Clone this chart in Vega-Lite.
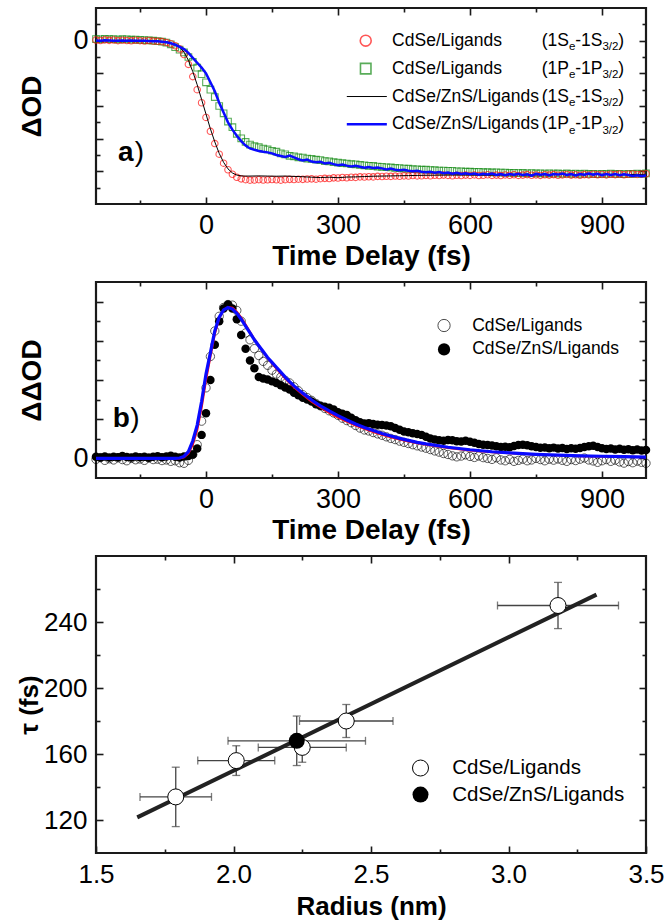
{
"$schema":"https://vega.github.io/schema/vega-lite/v6.json",
"padding":{"left":15,"top":6,"right":5,"bottom":2},
"spacing":8,
"config":{
 "font":"Liberation Sans",
 "view":{"stroke":"#1a1a1a","strokeWidth":2.2},
 "axis":{"domain":false,"grid":false,"tickColor":"#1a1a1a","tickWidth":1.6,"labelColor":"#000","titleColor":"#000","labelFont":"Liberation Sans","titleFont":"Liberation Sans","labelFlush":false,"labelOverlap":false}
},
"datasets":{
"aRed":[{"t":-250,"v":0.004},{"t":-240,"v":0.001},{"t":-230,"v":0.005},{"t":-220,"v":0.002},{"t":-210,"v":0.004},{"t":-200,"v":0.0},{"t":-190,"v":0.003},{"t":-180,"v":0.001},{"t":-170,"v":-0.001},{"t":-160,"v":0.003},{"t":-150,"v":0.0},{"t":-140,"v":-0.002},{"t":-130,"v":0.001},{"t":-120,"v":-0.003},{"t":-110,"v":-0.004},{"t":-100,"v":-0.006},{"t":-90,"v":-0.011},{"t":-80,"v":-0.019},{"t":-70,"v":-0.031},{"t":-60,"v":-0.05},{"t":-50,"v":-0.085},{"t":-40,"v":-0.145},{"t":-30,"v":-0.22},{"t":-20,"v":-0.3},{"t":-10,"v":-0.38},{"t":0,"v":-0.47},{"t":10,"v":-0.555},{"t":20,"v":-0.63},{"t":30,"v":-0.695},{"t":40,"v":-0.75},{"t":50,"v":-0.79},{"t":60,"v":-0.818},{"t":70,"v":-0.836},{"t":80,"v":-0.846},{"t":90,"v":-0.851},{"t":100,"v":-0.854},{"t":110,"v":-0.853},{"t":120,"v":-0.851},{"t":130,"v":-0.853},{"t":140,"v":-0.852},{"t":150,"v":-0.85},{"t":160,"v":-0.852},{"t":170,"v":-0.854},{"t":180,"v":-0.851},{"t":190,"v":-0.849},{"t":200,"v":-0.85},{"t":210,"v":-0.848},{"t":220,"v":-0.849},{"t":230,"v":-0.847},{"t":240,"v":-0.846},{"t":250,"v":-0.848},{"t":260,"v":-0.845},{"t":270,"v":-0.843},{"t":280,"v":-0.844},{"t":290,"v":-0.84},{"t":300,"v":-0.841},{"t":310,"v":-0.838},{"t":320,"v":-0.839},{"t":330,"v":-0.836},{"t":340,"v":-0.837},{"t":350,"v":-0.834},{"t":360,"v":-0.835},{"t":370,"v":-0.833},{"t":380,"v":-0.834},{"t":390,"v":-0.831},{"t":400,"v":-0.832},{"t":410,"v":-0.83},{"t":420,"v":-0.831},{"t":430,"v":-0.829},{"t":440,"v":-0.83},{"t":450,"v":-0.828},{"t":460,"v":-0.829},{"t":470,"v":-0.826},{"t":480,"v":-0.828},{"t":490,"v":-0.827},{"t":500,"v":-0.825},{"t":510,"v":-0.827},{"t":520,"v":-0.824},{"t":530,"v":-0.826},{"t":540,"v":-0.823},{"t":550,"v":-0.825},{"t":560,"v":-0.827},{"t":570,"v":-0.824},{"t":580,"v":-0.826},{"t":590,"v":-0.823},{"t":600,"v":-0.825},{"t":610,"v":-0.822},{"t":620,"v":-0.826},{"t":630,"v":-0.824},{"t":640,"v":-0.821},{"t":650,"v":-0.825},{"t":660,"v":-0.823},{"t":670,"v":-0.826},{"t":680,"v":-0.822},{"t":690,"v":-0.824},{"t":700,"v":-0.821},{"t":710,"v":-0.825},{"t":720,"v":-0.823},{"t":730,"v":-0.82},{"t":740,"v":-0.824},{"t":750,"v":-0.822},{"t":760,"v":-0.825},{"t":770,"v":-0.821},{"t":780,"v":-0.823},{"t":790,"v":-0.82},{"t":800,"v":-0.824},{"t":810,"v":-0.822},{"t":820,"v":-0.819},{"t":830,"v":-0.823},{"t":840,"v":-0.821},{"t":850,"v":-0.824},{"t":860,"v":-0.82},{"t":870,"v":-0.822},{"t":880,"v":-0.818},{"t":890,"v":-0.821},{"t":900,"v":-0.819},{"t":910,"v":-0.822},{"t":920,"v":-0.818},{"t":930,"v":-0.82},{"t":940,"v":-0.817},{"t":950,"v":-0.821},{"t":960,"v":-0.818},{"t":970,"v":-0.816},{"t":980,"v":-0.819},{"t":990,"v":-0.817},{"t":1000,"v":-0.815}],
"aGreen":[{"t":-250,"v":0.01},{"t":-240,"v":0.008},{"t":-230,"v":0.011},{"t":-220,"v":0.009},{"t":-210,"v":0.01},{"t":-200,"v":0.007},{"t":-190,"v":0.009},{"t":-180,"v":0.008},{"t":-170,"v":0.006},{"t":-160,"v":0.007},{"t":-150,"v":0.005},{"t":-140,"v":0.004},{"t":-130,"v":0.002},{"t":-120,"v":0.0},{"t":-110,"v":-0.003},{"t":-100,"v":-0.006},{"t":-90,"v":-0.012},{"t":-80,"v":-0.022},{"t":-70,"v":-0.04},{"t":-60,"v":-0.055},{"t":-50,"v":-0.072},{"t":-40,"v":-0.1},{"t":-30,"v":-0.13},{"t":-20,"v":-0.165},{"t":-10,"v":-0.205},{"t":0,"v":-0.255},{"t":10,"v":-0.3},{"t":20,"v":-0.345},{"t":30,"v":-0.4},{"t":40,"v":-0.445},{"t":50,"v":-0.495},{"t":60,"v":-0.53},{"t":70,"v":-0.57},{"t":80,"v":-0.598},{"t":90,"v":-0.62},{"t":100,"v":-0.636},{"t":110,"v":-0.646},{"t":120,"v":-0.652},{"t":130,"v":-0.661},{"t":140,"v":-0.666},{"t":150,"v":-0.674},{"t":160,"v":-0.68},{"t":170,"v":-0.69},{"t":180,"v":-0.696},{"t":190,"v":-0.705},{"t":200,"v":-0.708},{"t":210,"v":-0.714},{"t":220,"v":-0.716},{"t":230,"v":-0.722},{"t":240,"v":-0.724},{"t":250,"v":-0.729},{"t":260,"v":-0.731},{"t":270,"v":-0.737},{"t":280,"v":-0.739},{"t":290,"v":-0.744},{"t":300,"v":-0.746},{"t":310,"v":-0.75},{"t":320,"v":-0.752},{"t":330,"v":-0.756},{"t":340,"v":-0.757},{"t":350,"v":-0.761},{"t":360,"v":-0.763},{"t":370,"v":-0.766},{"t":380,"v":-0.767},{"t":390,"v":-0.771},{"t":400,"v":-0.772},{"t":410,"v":-0.775},{"t":420,"v":-0.776},{"t":430,"v":-0.779},{"t":440,"v":-0.78},{"t":450,"v":-0.783},{"t":460,"v":-0.784},{"t":470,"v":-0.787},{"t":480,"v":-0.788},{"t":490,"v":-0.79},{"t":500,"v":-0.79},{"t":510,"v":-0.792},{"t":520,"v":-0.793},{"t":530,"v":-0.795},{"t":540,"v":-0.795},{"t":550,"v":-0.797},{"t":560,"v":-0.797},{"t":570,"v":-0.8},{"t":580,"v":-0.8},{"t":590,"v":-0.802},{"t":600,"v":-0.802},{"t":610,"v":-0.804},{"t":620,"v":-0.803},{"t":630,"v":-0.805},{"t":640,"v":-0.805},{"t":650,"v":-0.807},{"t":660,"v":-0.806},{"t":670,"v":-0.808},{"t":680,"v":-0.808},{"t":690,"v":-0.81},{"t":700,"v":-0.809},{"t":710,"v":-0.811},{"t":720,"v":-0.81},{"t":730,"v":-0.812},{"t":740,"v":-0.811},{"t":750,"v":-0.813},{"t":760,"v":-0.812},{"t":770,"v":-0.814},{"t":780,"v":-0.812},{"t":790,"v":-0.814},{"t":800,"v":-0.813},{"t":810,"v":-0.815},{"t":820,"v":-0.813},{"t":830,"v":-0.815},{"t":840,"v":-0.814},{"t":850,"v":-0.816},{"t":860,"v":-0.814},{"t":870,"v":-0.816},{"t":880,"v":-0.815},{"t":890,"v":-0.817},{"t":900,"v":-0.815},{"t":910,"v":-0.816},{"t":920,"v":-0.814},{"t":930,"v":-0.816},{"t":940,"v":-0.815},{"t":950,"v":-0.817},{"t":960,"v":-0.815},{"t":970,"v":-0.816},{"t":980,"v":-0.814},{"t":990,"v":-0.815},{"t":1000,"v":-0.813}],
"aBlack":[{"t":-250,"v":0.0},{"t":-200,"v":0.0},{"t":-150,"v":0.0},{"t":-120,"v":-0.002},{"t":-100,"v":-0.005},{"t":-90,"v":-0.008},{"t":-80,"v":-0.014},{"t":-70,"v":-0.024},{"t":-60,"v":-0.04},{"t":-50,"v":-0.07},{"t":-40,"v":-0.12},{"t":-30,"v":-0.19},{"t":-20,"v":-0.27},{"t":-10,"v":-0.36},{"t":0,"v":-0.45},{"t":10,"v":-0.54},{"t":20,"v":-0.62},{"t":30,"v":-0.69},{"t":40,"v":-0.745},{"t":50,"v":-0.785},{"t":60,"v":-0.81},{"t":70,"v":-0.823},{"t":80,"v":-0.828},{"t":90,"v":-0.829},{"t":100,"v":-0.829},{"t":120,"v":-0.828},{"t":140,"v":-0.829},{"t":160,"v":-0.83},{"t":180,"v":-0.829},{"t":200,"v":-0.831},{"t":220,"v":-0.833},{"t":240,"v":-0.836},{"t":260,"v":-0.838},{"t":280,"v":-0.836},{"t":300,"v":-0.839},{"t":320,"v":-0.835},{"t":340,"v":-0.834},{"t":360,"v":-0.832},{"t":380,"v":-0.83},{"t":400,"v":-0.829},{"t":420,"v":-0.828},{"t":440,"v":-0.827},{"t":460,"v":-0.826},{"t":480,"v":-0.825},{"t":500,"v":-0.824},{"t":550,"v":-0.823},{"t":600,"v":-0.822},{"t":650,"v":-0.823},{"t":700,"v":-0.821},{"t":750,"v":-0.822},{"t":800,"v":-0.82},{"t":850,"v":-0.821},{"t":900,"v":-0.819},{"t":950,"v":-0.82},{"t":1000,"v":-0.818}],
"aBlue":[{"t":-250,"v":0.001},{"t":-240,"v":0.0},{"t":-230,"v":0.002},{"t":-220,"v":0.001},{"t":-210,"v":0.0},{"t":-200,"v":-0.001},{"t":-190,"v":0.001},{"t":-180,"v":0.0},{"t":-170,"v":0.001},{"t":-160,"v":0.0},{"t":-150,"v":-0.001},{"t":-140,"v":0.0},{"t":-130,"v":-0.002},{"t":-120,"v":-0.003},{"t":-110,"v":-0.004},{"t":-100,"v":-0.006},{"t":-90,"v":-0.01},{"t":-80,"v":-0.016},{"t":-70,"v":-0.025},{"t":-60,"v":-0.038},{"t":-50,"v":-0.052},{"t":-40,"v":-0.075},{"t":-30,"v":-0.105},{"t":-20,"v":-0.135},{"t":-10,"v":-0.165},{"t":0,"v":-0.2},{"t":10,"v":-0.255},{"t":20,"v":-0.31},{"t":30,"v":-0.38},{"t":40,"v":-0.44},{"t":50,"v":-0.5},{"t":60,"v":-0.545},{"t":70,"v":-0.582},{"t":80,"v":-0.615},{"t":90,"v":-0.642},{"t":100,"v":-0.66},{"t":110,"v":-0.668},{"t":120,"v":-0.675},{"t":130,"v":-0.68},{"t":140,"v":-0.684},{"t":150,"v":-0.69},{"t":160,"v":-0.7},{"t":170,"v":-0.706},{"t":180,"v":-0.712},{"t":190,"v":-0.704},{"t":200,"v":-0.715},{"t":210,"v":-0.726},{"t":220,"v":-0.733},{"t":230,"v":-0.728},{"t":240,"v":-0.74},{"t":250,"v":-0.745},{"t":260,"v":-0.741},{"t":270,"v":-0.752},{"t":280,"v":-0.748},{"t":290,"v":-0.756},{"t":300,"v":-0.762},{"t":310,"v":-0.758},{"t":320,"v":-0.765},{"t":330,"v":-0.77},{"t":340,"v":-0.766},{"t":350,"v":-0.772},{"t":360,"v":-0.778},{"t":370,"v":-0.774},{"t":380,"v":-0.779},{"t":390,"v":-0.776},{"t":400,"v":-0.782},{"t":410,"v":-0.788},{"t":420,"v":-0.783},{"t":430,"v":-0.79},{"t":440,"v":-0.794},{"t":450,"v":-0.791},{"t":460,"v":-0.796},{"t":470,"v":-0.8},{"t":480,"v":-0.797},{"t":490,"v":-0.803},{"t":500,"v":-0.806},{"t":510,"v":-0.802},{"t":520,"v":-0.808},{"t":530,"v":-0.804},{"t":540,"v":-0.811},{"t":550,"v":-0.807},{"t":560,"v":-0.814},{"t":570,"v":-0.809},{"t":580,"v":-0.816},{"t":590,"v":-0.812},{"t":600,"v":-0.818},{"t":610,"v":-0.813},{"t":620,"v":-0.821},{"t":630,"v":-0.815},{"t":640,"v":-0.819},{"t":650,"v":-0.813},{"t":660,"v":-0.822},{"t":670,"v":-0.816},{"t":680,"v":-0.824},{"t":690,"v":-0.817},{"t":700,"v":-0.821},{"t":710,"v":-0.815},{"t":720,"v":-0.823},{"t":730,"v":-0.818},{"t":740,"v":-0.826},{"t":750,"v":-0.815},{"t":760,"v":-0.821},{"t":770,"v":-0.817},{"t":780,"v":-0.824},{"t":790,"v":-0.816},{"t":800,"v":-0.82},{"t":810,"v":-0.814},{"t":820,"v":-0.822},{"t":830,"v":-0.817},{"t":840,"v":-0.825},{"t":850,"v":-0.816},{"t":860,"v":-0.821},{"t":870,"v":-0.813},{"t":880,"v":-0.82},{"t":890,"v":-0.815},{"t":900,"v":-0.823},{"t":910,"v":-0.817},{"t":920,"v":-0.822},{"t":930,"v":-0.816},{"t":940,"v":-0.824},{"t":950,"v":-0.818},{"t":960,"v":-0.822},{"t":970,"v":-0.828},{"t":980,"v":-0.824},{"t":990,"v":-0.83},{"t":1000,"v":-0.826}],
"bOpen":[{"t":-250,"v":-0.005},{"t":-240,"v":0.004},{"t":-230,"v":-0.01},{"t":-220,"v":-0.002},{"t":-210,"v":-0.008},{"t":-200,"v":0.003},{"t":-190,"v":-0.006},{"t":-180,"v":-0.012},{"t":-170,"v":0.0},{"t":-160,"v":-0.007},{"t":-150,"v":-0.003},{"t":-140,"v":-0.01},{"t":-130,"v":0.002},{"t":-120,"v":-0.006},{"t":-110,"v":-0.004},{"t":-100,"v":-0.011},{"t":-90,"v":-0.008},{"t":-80,"v":-0.015},{"t":-70,"v":-0.012},{"t":-60,"v":-0.022},{"t":-50,"v":-0.025},{"t":-40,"v":-0.01},{"t":-30,"v":0.02},{"t":-20,"v":0.07},{"t":-10,"v":0.19},{"t":0,"v":0.36},{"t":10,"v":0.52},{"t":20,"v":0.65},{"t":30,"v":0.725},{"t":40,"v":0.77},{"t":50,"v":0.785},{"t":60,"v":0.782},{"t":70,"v":0.755},{"t":80,"v":0.7},{"t":90,"v":0.64},{"t":100,"v":0.605},{"t":110,"v":0.56},{"t":120,"v":0.525},{"t":130,"v":0.495},{"t":140,"v":0.475},{"t":150,"v":0.45},{"t":160,"v":0.43},{"t":170,"v":0.415},{"t":180,"v":0.398},{"t":190,"v":0.385},{"t":200,"v":0.365},{"t":210,"v":0.345},{"t":220,"v":0.325},{"t":230,"v":0.31},{"t":240,"v":0.296},{"t":250,"v":0.28},{"t":260,"v":0.268},{"t":270,"v":0.255},{"t":280,"v":0.243},{"t":290,"v":0.232},{"t":300,"v":0.22},{"t":310,"v":0.205},{"t":320,"v":0.193},{"t":330,"v":0.182},{"t":340,"v":0.168},{"t":350,"v":0.155},{"t":360,"v":0.145},{"t":370,"v":0.14},{"t":380,"v":0.132},{"t":390,"v":0.125},{"t":400,"v":0.118},{"t":410,"v":0.11},{"t":420,"v":0.102},{"t":430,"v":0.096},{"t":440,"v":0.088},{"t":450,"v":0.082},{"t":460,"v":0.076},{"t":470,"v":0.07},{"t":480,"v":0.064},{"t":490,"v":0.058},{"t":500,"v":0.052},{"t":510,"v":0.045},{"t":520,"v":0.038},{"t":530,"v":0.032},{"t":540,"v":0.025},{"t":550,"v":0.02},{"t":560,"v":0.013},{"t":570,"v":0.008},{"t":580,"v":0.012},{"t":590,"v":0.018},{"t":600,"v":0.01},{"t":610,"v":0.005},{"t":620,"v":0.012},{"t":630,"v":0.004},{"t":640,"v":0.0},{"t":650,"v":-0.005},{"t":660,"v":0.003},{"t":670,"v":-0.008},{"t":680,"v":-0.012},{"t":690,"v":-0.005},{"t":700,"v":-0.015},{"t":710,"v":-0.01},{"t":720,"v":-0.004},{"t":730,"v":-0.012},{"t":740,"v":-0.008},{"t":750,"v":0.0},{"t":760,"v":-0.006},{"t":770,"v":-0.012},{"t":780,"v":-0.004},{"t":790,"v":-0.009},{"t":800,"v":-0.003},{"t":810,"v":-0.01},{"t":820,"v":-0.015},{"t":830,"v":-0.006},{"t":840,"v":-0.011},{"t":850,"v":-0.004},{"t":860,"v":0.002},{"t":870,"v":-0.008},{"t":880,"v":-0.013},{"t":890,"v":-0.02},{"t":900,"v":-0.012},{"t":910,"v":-0.006},{"t":920,"v":-0.015},{"t":930,"v":-0.009},{"t":940,"v":-0.018},{"t":950,"v":-0.024},{"t":960,"v":-0.016},{"t":970,"v":-0.022},{"t":980,"v":-0.014},{"t":990,"v":-0.02},{"t":1000,"v":-0.025}],
"bFilled":[{"t":-250,"v":0.008},{"t":-240,"v":0.005},{"t":-230,"v":0.01},{"t":-220,"v":0.004},{"t":-210,"v":0.009},{"t":-200,"v":0.006},{"t":-190,"v":0.012},{"t":-180,"v":0.007},{"t":-170,"v":0.004},{"t":-160,"v":0.01},{"t":-150,"v":0.006},{"t":-140,"v":0.008},{"t":-130,"v":0.003},{"t":-120,"v":0.009},{"t":-110,"v":0.011},{"t":-100,"v":0.006},{"t":-90,"v":0.01},{"t":-80,"v":0.013},{"t":-70,"v":0.008},{"t":-60,"v":0.005},{"t":-50,"v":0.01},{"t":-40,"v":0.012},{"t":-30,"v":0.02},{"t":-20,"v":0.05},{"t":-10,"v":0.12},{"t":0,"v":0.23},{"t":10,"v":0.4},{"t":20,"v":0.58},{"t":30,"v":0.7},{"t":40,"v":0.765},{"t":50,"v":0.785},{"t":60,"v":0.765},{"t":70,"v":0.71},{"t":80,"v":0.63},{"t":90,"v":0.56},{"t":100,"v":0.5},{"t":110,"v":0.46},{"t":120,"v":0.415},{"t":130,"v":0.408},{"t":140,"v":0.402},{"t":150,"v":0.393},{"t":160,"v":0.385},{"t":170,"v":0.373},{"t":180,"v":0.362},{"t":190,"v":0.352},{"t":200,"v":0.335},{"t":210,"v":0.322},{"t":220,"v":0.31},{"t":230,"v":0.3},{"t":240,"v":0.29},{"t":250,"v":0.276},{"t":260,"v":0.268},{"t":270,"v":0.263},{"t":280,"v":0.258},{"t":290,"v":0.25},{"t":300,"v":0.236},{"t":310,"v":0.228},{"t":320,"v":0.221},{"t":330,"v":0.208},{"t":340,"v":0.195},{"t":350,"v":0.185},{"t":360,"v":0.178},{"t":370,"v":0.18},{"t":380,"v":0.176},{"t":390,"v":0.172},{"t":400,"v":0.17},{"t":410,"v":0.168},{"t":420,"v":0.164},{"t":430,"v":0.155},{"t":440,"v":0.146},{"t":450,"v":0.137},{"t":460,"v":0.133},{"t":470,"v":0.128},{"t":480,"v":0.125},{"t":490,"v":0.12},{"t":500,"v":0.11},{"t":510,"v":0.102},{"t":520,"v":0.096},{"t":530,"v":0.092},{"t":540,"v":0.09},{"t":550,"v":0.094},{"t":560,"v":0.092},{"t":570,"v":0.088},{"t":580,"v":0.086},{"t":590,"v":0.09},{"t":600,"v":0.085},{"t":610,"v":0.08},{"t":620,"v":0.074},{"t":630,"v":0.07},{"t":640,"v":0.068},{"t":650,"v":0.066},{"t":660,"v":0.062},{"t":670,"v":0.058},{"t":680,"v":0.06},{"t":690,"v":0.057},{"t":700,"v":0.063},{"t":710,"v":0.068},{"t":720,"v":0.07},{"t":730,"v":0.067},{"t":740,"v":0.062},{"t":750,"v":0.058},{"t":760,"v":0.054},{"t":770,"v":0.056},{"t":780,"v":0.052},{"t":790,"v":0.055},{"t":800,"v":0.05},{"t":810,"v":0.053},{"t":820,"v":0.048},{"t":830,"v":0.052},{"t":840,"v":0.049},{"t":850,"v":0.053},{"t":860,"v":0.058},{"t":870,"v":0.062},{"t":880,"v":0.064},{"t":890,"v":0.058},{"t":900,"v":0.052},{"t":910,"v":0.048},{"t":920,"v":0.051},{"t":930,"v":0.046},{"t":940,"v":0.049},{"t":950,"v":0.044},{"t":960,"v":0.047},{"t":970,"v":0.042},{"t":980,"v":0.045},{"t":990,"v":0.04},{"t":1000,"v":0.043}],
"bRed":[{"t":-250,"v":0.0},{"t":-100,"v":0.0},{"t":-60,"v":0.0},{"t":-50,"v":0.006},{"t":-40,"v":0.025},{"t":-30,"v":0.07},{"t":-20,"v":0.145},{"t":-10,"v":0.26},{"t":0,"v":0.4},{"t":10,"v":0.52},{"t":20,"v":0.635},{"t":30,"v":0.715},{"t":40,"v":0.757},{"t":50,"v":0.772},{"t":60,"v":0.768},{"t":70,"v":0.748},{"t":80,"v":0.718},{"t":90,"v":0.683},{"t":100,"v":0.645},{"t":110,"v":0.608},{"t":120,"v":0.575},{"t":130,"v":0.543},{"t":140,"v":0.512},{"t":150,"v":0.485},{"t":160,"v":0.458},{"t":170,"v":0.433},{"t":180,"v":0.408},{"t":190,"v":0.385},{"t":200,"v":0.363},{"t":220,"v":0.325},{"t":240,"v":0.29},{"t":260,"v":0.26},{"t":280,"v":0.233},{"t":300,"v":0.209},{"t":320,"v":0.188},{"t":340,"v":0.168},{"t":360,"v":0.151},{"t":380,"v":0.135},{"t":400,"v":0.121},{"t":420,"v":0.108},{"t":440,"v":0.097},{"t":460,"v":0.087},{"t":480,"v":0.078},{"t":500,"v":0.07},{"t":550,"v":0.053},{"t":600,"v":0.041},{"t":650,"v":0.032},{"t":700,"v":0.025},{"t":750,"v":0.02},{"t":800,"v":0.016},{"t":850,"v":0.012},{"t":900,"v":0.01},{"t":950,"v":0.008},{"t":1000,"v":0.006}],
"bBlue":[{"t":-250,"v":0.0},{"t":-100,"v":0.0},{"t":-70,"v":0.0},{"t":-60,"v":0.002},{"t":-50,"v":0.01},{"t":-40,"v":0.035},{"t":-30,"v":0.09},{"t":-20,"v":0.17},{"t":-10,"v":0.29},{"t":0,"v":0.43},{"t":10,"v":0.54},{"t":20,"v":0.65},{"t":30,"v":0.72},{"t":40,"v":0.757},{"t":50,"v":0.77},{"t":60,"v":0.762},{"t":70,"v":0.74},{"t":80,"v":0.71},{"t":90,"v":0.675},{"t":100,"v":0.64},{"t":110,"v":0.605},{"t":120,"v":0.575},{"t":130,"v":0.545},{"t":140,"v":0.515},{"t":150,"v":0.49},{"t":160,"v":0.465},{"t":170,"v":0.44},{"t":180,"v":0.415},{"t":190,"v":0.392},{"t":200,"v":0.37},{"t":220,"v":0.333},{"t":240,"v":0.298},{"t":260,"v":0.268},{"t":280,"v":0.242},{"t":300,"v":0.218},{"t":320,"v":0.196},{"t":340,"v":0.176},{"t":360,"v":0.158},{"t":380,"v":0.142},{"t":400,"v":0.127},{"t":420,"v":0.114},{"t":440,"v":0.102},{"t":460,"v":0.092},{"t":480,"v":0.082},{"t":500,"v":0.074},{"t":550,"v":0.057},{"t":600,"v":0.044},{"t":650,"v":0.034},{"t":700,"v":0.027},{"t":750,"v":0.021},{"t":800,"v":0.017},{"t":850,"v":0.013},{"t":900,"v":0.011},{"t":950,"v":0.009},{"t":1000,"v":0.007}],
"cPts":[{"r":1.79,"tau":134,"rlo":1.66,"rhi":1.92,"tlo":116,"thi":152,"g":"CdSe/Ligands"},{"r":2.01,"tau":156,"rlo":1.87,"rhi":2.15,"tlo":147,"thi":165,"g":"CdSe/Ligands"},{"r":2.25,"tau":164,"rlo":2.09,"rhi":2.41,"tlo":155,"thi":170,"g":"CdSe/Ligands"},{"r":2.41,"tau":180,"rlo":2.24,"rhi":2.58,"tlo":170,"thi":190,"g":"CdSe/Ligands"},{"r":3.18,"tau":250,"rlo":2.96,"rhi":3.4,"tlo":236,"thi":264,"g":"CdSe/Ligands"},{"r":2.23,"tau":168,"rlo":1.98,"rhi":2.48,"tlo":153,"thi":183,"g":"CdSe/ZnS/Ligands"}]
},
"vconcat":[
{
"width":550,"height":196,
"resolve":{"axis":{"x":"independent","y":"independent"}},
"encoding":{"x":{"field":"t","type":"quantitative","scale":{"domain":[-250,1000],"nice":false,"zero":false},"axis":null},"y":{"field":"v","type":"quantitative","scale":{"domain":[-1,0.2],"nice":false,"zero":false},"axis":null}},
"layer":[
{"data":{"name":"aGreen"},"mark":{"type":"point","shape":"square","filled":false,"color":"#138a13","size":44,"strokeWidth":1.1},
 "encoding":{"x":{"field":"t","type":"quantitative","scale":{"domain":[-250,1000],"nice":false,"zero":false},"axis":{"orient":"top","values":[0,300,600,900],"tickSize":-7,"labels":false,"title":null}},
 "y":{"field":"v","type":"quantitative","scale":{"domain":[-1,0.2],"nice":false,"zero":false},"axis":{"orient":"right","values":[-0.8,-0.6,-0.4,-0.2,0],"tickSize":-7,"labels":false,"title":null}}}},
{"data":{"name":"aRed"},"mark":{"type":"point","shape":"circle","filled":false,"color":"#ff1010","size":42,"strokeWidth":1.1},
 "encoding":{"x":{"field":"t","type":"quantitative","scale":{"domain":[-250,1000],"nice":false,"zero":false},"axis":{"orient":"bottom","values":[0,300,600,900],"format":"d","tickSize":-7,"labelPadding":15,"labelFontSize":27,"title":"Time Delay (fs)","titleFontSize":28,"titleFontWeight":"bold","titlePadding":4}},
 "y":{"field":"v","type":"quantitative","scale":{"domain":[-1,0.2],"nice":false,"zero":false},"axis":{"orient":"left","values":[-0.8,-0.6,-0.4,-0.2,0],"labelExpr":"datum.value === 0 ? '0' : ''","tickSize":-7,"labelPadding":15,"labelFontSize":27,"title":"ΔOD","titleFontSize":28,"titleFontWeight":"bold","titlePadding":26}}}},
{"data":{"name":"aBlack"},"mark":{"type":"line","color":"#000","strokeWidth":1},
 "encoding":{"x":{"field":"t","type":"quantitative","scale":{"domain":[-250,1000],"nice":false,"zero":false},"axis":{"orient":"bottom","values":[-150,150,450,750],"tickSize":-4,"labels":false,"title":null}},
 "y":{"field":"v","type":"quantitative","scale":{"domain":[-1,0.2],"nice":false,"zero":false},"axis":{"orient":"left","values":[-0.9,-0.7,-0.5,-0.3,-0.1,0.1],"tickSize":-4,"labels":false,"title":null}}}},
{"data":{"name":"aBlue"},"mark":{"type":"line","color":"#0a0aff","strokeWidth":2.5},
 "encoding":{"x":{"field":"t","type":"quantitative","scale":{"domain":[-250,1000],"nice":false,"zero":false},"axis":{"orient":"top","values":[-150,150,450,750],"tickSize":-4,"labels":false,"title":null}},
 "y":{"field":"v","type":"quantitative","scale":{"domain":[-1,0.2],"nice":false,"zero":false},"axis":{"orient":"right","values":[-0.9,-0.7,-0.5,-0.3,-0.1,0.1],"tickSize":-4,"labels":false,"title":null}}}},
{"data":{"values":[{"t":363,"v":0}]},"mark":{"type":"point","shape":"circle","filled":false,"color":"#ff1010","size":120,"strokeWidth":1.6}},
{"data":{"values":[{"t":363,"v":-0.171}]},"mark":{"type":"point","shape":"square","filled":false,"color":"#138a13","size":110,"strokeWidth":1.6}},
{"data":{"values":[{"t":320,"v":-0.342},{"t":411,"v":-0.342}]},"mark":{"type":"line","color":"#000","strokeWidth":1}},
{"data":{"values":[{"t":320,"v":-0.512},{"t":411,"v":-0.512}]},"mark":{"type":"line","color":"#0a0aff","strokeWidth":2.5}},
{"data":{"values":[{"t":423,"v":0,"s":"CdSe/Ligands"},{"t":423,"v":-0.171,"s":"CdSe/Ligands"},{"t":423,"v":-0.342,"s":"CdSe/ZnS/Ligands"},{"t":423,"v":-0.512,"s":"CdSe/ZnS/Ligands"},
 {"t":763,"v":0,"s":"(1S"},{"t":839,"v":0,"s":"-1S"},{"t":937,"v":0,"s":")"},
 {"t":763,"v":-0.171,"s":"(1P"},{"t":839,"v":-0.171,"s":"-1P"},{"t":937,"v":-0.171,"s":")"},
 {"t":763,"v":-0.342,"s":"(1S"},{"t":839,"v":-0.342,"s":"-1S"},{"t":937,"v":-0.342,"s":")"},
 {"t":763,"v":-0.512,"s":"(1P"},{"t":839,"v":-0.512,"s":"-1P"},{"t":937,"v":-0.512,"s":")"}]},
 "mark":{"type":"text","align":"left","baseline":"middle","fontSize":17.5,"color":"#000"},"encoding":{"text":{"field":"s"}}},
{"data":{"values":[{"t":825,"v":-0.04,"s":"e"},{"t":901,"v":-0.04,"s":"3/2"},{"t":825,"v":-0.211,"s":"e"},{"t":901,"v":-0.211,"s":"3/2"},{"t":825,"v":-0.382,"s":"e"},{"t":901,"v":-0.382,"s":"3/2"},{"t":825,"v":-0.552,"s":"e"},{"t":901,"v":-0.552,"s":"3/2"}]},
 "mark":{"type":"text","align":"left","baseline":"middle","fontSize":11.5,"color":"#000"},"encoding":{"text":{"field":"s"}}},
{"data":{"values":[{"t":-200,"v":-0.69,"s":"a"}]},"mark":{"type":"text","align":"left","baseline":"middle","fontSize":28,"fontWeight":"bold","color":"#000"},"encoding":{"text":{"field":"s"}}},
{"data":{"values":[{"t":-162,"v":-0.69,"s":")"}]},"mark":{"type":"text","align":"left","baseline":"middle","fontSize":28,"color":"#000"},"encoding":{"text":{"field":"s"}}}
]
},
{
"width":550,"height":196,
"resolve":{"axis":{"x":"independent","y":"independent"}},
"encoding":{"x":{"field":"t","type":"quantitative","scale":{"domain":[-250,1000],"nice":false,"zero":false},"axis":null},"y":{"field":"v","type":"quantitative","scale":{"domain":[-0.1,0.9],"nice":false,"zero":false},"axis":null}},
"layer":[
{"data":{"name":"bOpen"},"mark":{"type":"point","shape":"circle","filled":false,"color":"#000","size":70,"strokeWidth":0.9},
 "encoding":{"x":{"field":"t","type":"quantitative","scale":{"domain":[-250,1000],"nice":false,"zero":false},"axis":{"orient":"bottom","values":[0,300,600,900],"format":"d","tickSize":-7,"labelPadding":15,"labelFontSize":27,"title":"Time Delay (fs)","titleFontSize":28,"titleFontWeight":"bold","titlePadding":4}},
 "y":{"field":"v","type":"quantitative","scale":{"domain":[-0.1,0.9],"nice":false,"zero":false},"axis":{"orient":"left","values":[0,0.2,0.4,0.6,0.8],"labelExpr":"datum.value === 0 ? '0' : ''","tickSize":-7,"labelPadding":15,"labelFontSize":27,"title":"ΔΔOD","titleFontSize":28,"titleFontWeight":"bold","titlePadding":26}}}},
{"data":{"name":"bFilled"},"mark":{"type":"point","shape":"circle","filled":true,"color":"#000","opacity":1,"size":72},
 "encoding":{"x":{"field":"t","type":"quantitative","scale":{"domain":[-250,1000],"nice":false,"zero":false},"axis":{"orient":"top","values":[0,300,600,900],"tickSize":-7,"labels":false,"title":null}},
 "y":{"field":"v","type":"quantitative","scale":{"domain":[-0.1,0.9],"nice":false,"zero":false},"axis":{"orient":"right","values":[0,0.2,0.4,0.6,0.8],"tickSize":-7,"labels":false,"title":null}}}},
{"data":{"name":"bRed"},"mark":{"type":"line","color":"#ff1010","strokeWidth":2.2},
 "encoding":{"x":{"field":"t","type":"quantitative","scale":{"domain":[-250,1000],"nice":false,"zero":false},"axis":{"orient":"bottom","values":[-150,150,450,750],"tickSize":-4,"labels":false,"title":null}},
 "y":{"field":"v","type":"quantitative","scale":{"domain":[-0.1,0.9],"nice":false,"zero":false},"axis":{"orient":"left","values":[0.1,0.3,0.5,0.7],"tickSize":-4,"labels":false,"title":null}}}},
{"data":{"name":"bBlue"},"mark":{"type":"line","color":"#0a0aff","strokeWidth":3.2},
 "encoding":{"x":{"field":"t","type":"quantitative","scale":{"domain":[-250,1000],"nice":false,"zero":false},"axis":{"orient":"top","values":[-150,150,450,750],"tickSize":-4,"labels":false,"title":null}},
 "y":{"field":"v","type":"quantitative","scale":{"domain":[-0.1,0.9],"nice":false,"zero":false},"axis":{"orient":"right","values":[0.1,0.3,0.5,0.7],"tickSize":-4,"labels":false,"title":null}}}},
{"data":{"values":[{"t":541,"v":0.678}]},"mark":{"type":"point","shape":"circle","filled":false,"color":"#000","size":150,"strokeWidth":1}},
{"data":{"values":[{"t":541,"v":0.556}]},"mark":{"type":"point","shape":"circle","filled":true,"color":"#000","opacity":1,"size":150}},
{"data":{"values":[{"t":605,"v":0.678,"s":"CdSe/Ligands"},{"t":605,"v":0.556,"s":"CdSe/ZnS/Ligands"}]},"mark":{"type":"text","align":"left","baseline":"middle","fontSize":17.5,"color":"#000"},"encoding":{"text":{"field":"s"}}},
{"data":{"values":[{"t":-212,"v":0.203,"s":"b"}]},"mark":{"type":"text","align":"left","baseline":"middle","fontSize":28,"fontWeight":"bold","color":"#000"},"encoding":{"text":{"field":"s"}}},
{"data":{"values":[{"t":-172,"v":0.203,"s":")"}]},"mark":{"type":"text","align":"left","baseline":"middle","fontSize":28,"color":"#000"},"encoding":{"text":{"field":"s"}}}
]
},
{
"width":550,"height":297,
"resolve":{"axis":{"x":"independent","y":"independent"}},
"encoding":{"x":{"field":"r","type":"quantitative","scale":{"domain":[1.5,3.5],"nice":false,"zero":false},"axis":null},"y":{"field":"tau","type":"quantitative","scale":{"domain":[100,280],"nice":false,"zero":false},"axis":null}},
"layer":[
{"data":{"name":"cPts"},"mark":{"type":"rule","color":"#444","strokeWidth":1.3},
 "encoding":{"x":{"field":"rlo","type":"quantitative","scale":{"domain":[1.5,3.5],"nice":false,"zero":false},"axis":{"orient":"top","values":[2,2.5,3],"tickSize":-7,"labels":false,"title":null}},"x2":{"field":"rhi"},
 "y":{"field":"tau","type":"quantitative","scale":{"domain":[100,280],"nice":false,"zero":false},"axis":{"orient":"right","values":[120,160,200,240],"tickSize":-7,"labels":false,"title":null}}}},
{"data":{"name":"cPts"},"mark":{"type":"rule","color":"#444","strokeWidth":1.3},
 "encoding":{"x":{"field":"r","type":"quantitative","scale":{"domain":[1.5,3.5],"nice":false,"zero":false},"axis":{"orient":"bottom","values":[1.75,2.25,2.75,3.25],"tickSize":-4,"labels":false,"title":null}},
 "y":{"field":"tlo","type":"quantitative","scale":{"domain":[100,280],"nice":false,"zero":false},"axis":{"orient":"left","values":[140,180,220,260],"tickSize":-4,"labels":false,"title":null}},"y2":{"field":"thi"}}},
{"data":{"name":"cPts"},"transform":[{"fold":["rlo","rhi"],"as":["k","rv"]}],"mark":{"type":"tick","orient":"vertical","color":"#444","size":8,"thickness":1.3},
 "encoding":{"x":{"field":"rv","type":"quantitative","scale":{"domain":[1.5,3.5],"nice":false,"zero":false},"axis":null}}},
{"data":{"name":"cPts"},"transform":[{"fold":["tlo","thi"],"as":["k","tv"]}],"mark":{"type":"tick","orient":"horizontal","color":"#444","size":8,"thickness":1.3},
 "encoding":{"y":{"field":"tv","type":"quantitative","scale":{"domain":[100,280],"nice":false,"zero":false},"axis":null}}},
{"data":{"values":[{"r":1.65,"tau":121.6},{"r":3.32,"tau":256.6}]},"mark":{"type":"line","color":"#222","strokeWidth":4},
 "encoding":{"x":{"field":"r","type":"quantitative","scale":{"domain":[1.5,3.5],"nice":false,"zero":false},"axis":{"orient":"bottom","values":[1.5,2,2.5,3,3.5],"format":".1f","tickSize":-7,"labelPadding":15,"labelFontSize":26,"title":"Radius (nm)","titleFontSize":26,"titleFontWeight":"bold","titlePadding":6}},
 "y":{"field":"tau","type":"quantitative","scale":{"domain":[100,280],"nice":false,"zero":false},"axis":{"orient":"left","values":[120,160,200,240],"tickSize":-7,"labelPadding":16,"labelFontSize":26,"title":"τ (fs)","titleFontSize":26,"titleFontWeight":"bold","titlePadding":1}}}},
{"data":{"name":"cPts"},"transform":[{"filter":"datum.g === 'CdSe/Ligands'"}],"mark":{"type":"point","shape":"circle","filled":true,"fill":"#fff","stroke":"#000","strokeWidth":1,"opacity":1,"size":256},
 "encoding":{"x":{"field":"r","type":"quantitative","scale":{"domain":[1.5,3.5],"nice":false,"zero":false},"axis":{"orient":"top","values":[1.75,2.25,2.75,3.25],"tickSize":-4,"labels":false,"title":null}},
 "y":{"field":"tau","type":"quantitative","scale":{"domain":[100,280],"nice":false,"zero":false},"axis":{"orient":"right","values":[140,180,220,260],"tickSize":-4,"labels":false,"title":null}}}},
{"data":{"name":"cPts"},"transform":[{"filter":"datum.g === 'CdSe/ZnS/Ligands'"}],"mark":{"type":"point","shape":"circle","filled":true,"color":"#000","opacity":1,"size":256}},
{"data":{"values":[{"r":2.68,"tau":151.5}]},"mark":{"type":"point","shape":"circle","filled":true,"fill":"#fff","stroke":"#000","strokeWidth":1,"opacity":1,"size":256}},
{"data":{"values":[{"r":2.68,"tau":135.4}]},"mark":{"type":"point","shape":"circle","filled":true,"color":"#000","opacity":1,"size":256}},
{"data":{"values":[{"r":2.795,"tau":151.5,"s":"CdSe/Ligands"},{"r":2.795,"tau":135.4,"s":"CdSe/ZnS/Ligands"}]},"mark":{"type":"text","align":"left","baseline":"middle","fontSize":20.5,"color":"#000"},"encoding":{"text":{"field":"s"}}}
]
}
]
}
